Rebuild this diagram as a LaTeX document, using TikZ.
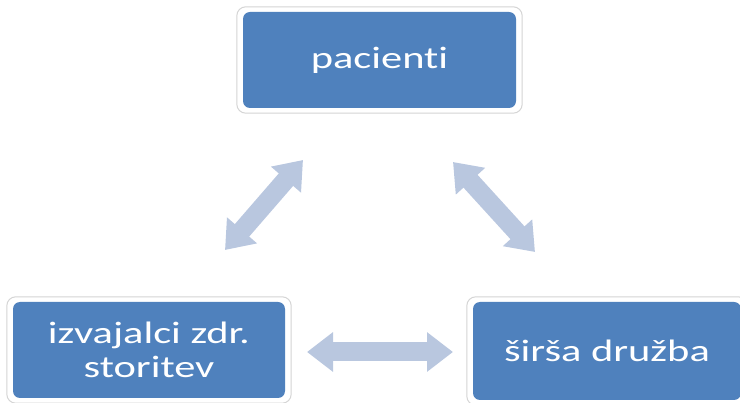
\documentclass[tikz,border=0pt]{standalone}
\usepackage{fontspec}
\setmainfont{Carlito}[FakeStretch=1.37,RawFeature={-liga;-clig}]
\usetikzlibrary{arrows.meta,backgrounds}
\definecolor{boxblue}{HTML}{4F81BD}
\definecolor{arrowblue}{HTML}{B9C7DF}
\definecolor{framegray}{HTML}{D4D4D4}
\begin{document}
\begin{tikzpicture}[x=1pt,y=-1pt,
  box/.style={fill=boxblue, rounded corners=7pt, text=white,
    font=\fontsize{31}{34}\selectfont, align=center, inner sep=0pt},
  frame/.style={draw=framegray, fill=white, rounded corners=9pt, line width=1pt},
  dbl/.style={draw=arrowblue, line width=19pt,
    {Triangle[width=38pt,length=26pt]}-{Triangle[width=38pt,length=26pt]}}]
\useasboundingbox (0,0) rectangle (740,403);
\node[box, minimum width=273pt, minimum height=96pt] (p) at (379.5,60) {pacienti};
\node[box, minimum width=272pt, minimum height=96pt] (i) at (149,350) {izvajalci zdr.\\storitev};
\node[box, minimum width=268pt, minimum height=98pt] (s) at (607,351) {širša družba};
\begin{scope}[on background layer]
  \foreach \n in {p,i,s}
    \draw[frame] ([shift={(-6,-5)}]\n.north west) rectangle ([shift={(6,5)}]\n.south east);
\end{scope}
\coordinate (a1) at (225,250);
\coordinate (a2) at (303,160);
\coordinate (b1) at (453,162);
\coordinate (b2) at (535,252);
\coordinate (c1) at (307,352);
\coordinate (c2) at (453,352);
\draw[dbl] (a1) -- (a2);
\draw[dbl] (b1) -- (b2);
\draw[dbl] (c1) -- (c2);
\end{tikzpicture}
\end{document}
